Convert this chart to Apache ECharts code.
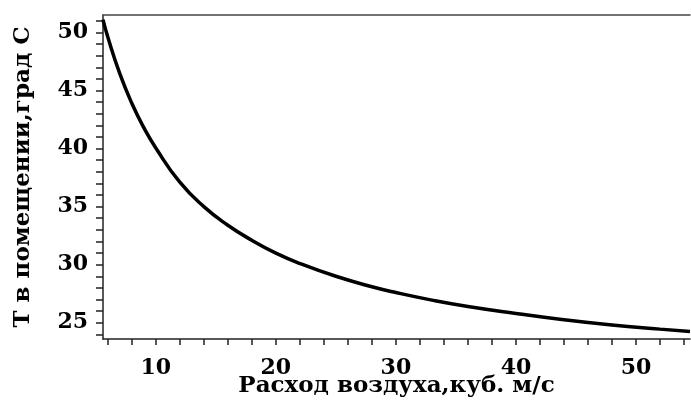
<!DOCTYPE html>
<html>
<head>
<meta charset="utf-8">
<script src="https://cdn.jsdelivr.net/npm/echarts@6/dist/echarts.min.js"></script>
<style>
  html, body { margin: 0; padding: 0; background: #fff; }
  #chart { width: 691px; height: 403px; }
</style>
</head>
<body>
<div id="chart"></div>
<script>
// расход воздуха, куб. м/с
var flow = [5.6, 6, 7, 8, 9, 10, 12, 14, 16, 18, 20, 22, 25, 28, 30, 33, 36, 40, 44, 48, 52, 54.5];
// температура в помещении, град С
var temp = [51.1, 49.6, 46.45, 43.9, 41.8, 40.05, 37.1, 35.0, 33.4, 32.1, 31.0, 30.1, 29.0, 28.1, 27.6, 26.95, 26.4, 25.8, 25.25, 24.8, 24.45, 24.25];

var xLabels = [10, 20, 30, 40, 50];
var xTicks = [6, 8, 10, 12, 14, 16, 18, 20, 22, 24, 26, 28, 30, 32, 34, 36, 38, 40, 42, 44, 46, 48, 50, 52, 54];
var yLabels = [25, 30, 35, 40, 45, 50];
var yTicks = [24, 25, 26, 27, 28, 29, 30, 31, 32, 33, 34, 35, 36, 37, 38, 39, 40, 41, 42, 43, 44, 45, 46, 47, 48, 49, 50, 51];

var font = '"DejaVu Serif", serif';
var myChart = echarts.init(document.getElementById('chart'));

var points = flow.map(function (q, i) {
    return [q, temp[i]];
});

var option = {
    animation: false,
    grid: { left: 103, right: 1, top: 15, bottom: 64, containLabel: false, outerBoundsMode: 'none' },
    xAxis: [{
        type: 'value',
        min: 5.6,
        max: 54.5,
        name: 'Расход воздуха,куб. м/с',
        nameLocation: 'middle',
        nameGap: 36,
        nameMoveOverlap: false,
        nameTextStyle: { fontFamily: font, fontWeight: 'bold', fontSize: 23, color: '#000' },
        axisLine: { onZero: false, lineStyle: { color: '#222', width: 1.5 } },
        axisTick: { customValues: xTicks, length: 6, lineStyle: { color: '#222', width: 1.5 } },
        axisLabel: { customValues: xLabels, margin: 18, fontFamily: font, fontWeight: 'bold', fontSize: 22, color: '#000' },
        splitLine: { show: false }
    }, {
        type: 'value',
        position: 'top',
        min: 5.6,
        max: 54.5,
        axisLine: { show: true, lineStyle: { color: '#444', width: 1.5 } },
        axisTick: { show: false },
        axisLabel: { show: false },
        splitLine: { show: false }
    }],
    yAxis: [{
        type: 'value',
        min: 23.6,
        max: 51.5,
        name: 'T в помещении,град С',
        nameLocation: 'middle',
        nameGap: 68,
        nameMoveOverlap: false,
        nameTextStyle: { fontFamily: font, fontWeight: 'bold', fontSize: 23, color: '#000' },
        axisLine: { show: true, onZero: false, lineStyle: { color: '#222', width: 1.5 } },
        axisTick: { customValues: yTicks, length: 7, lineStyle: { color: '#222', width: 1.5 } },
        axisLabel: { customValues: yLabels, margin: 15, fontFamily: font, fontWeight: 'bold', fontSize: 22, color: '#000' },
        splitLine: { show: false }
    }],
    series: [{
        type: 'line',
        data: points,
        smooth: true,
        showSymbol: false,
        lineStyle: { color: '#000', width: 3.5 }
    }]
};
myChart.setOption(option);
</script>
</body>
</html>
